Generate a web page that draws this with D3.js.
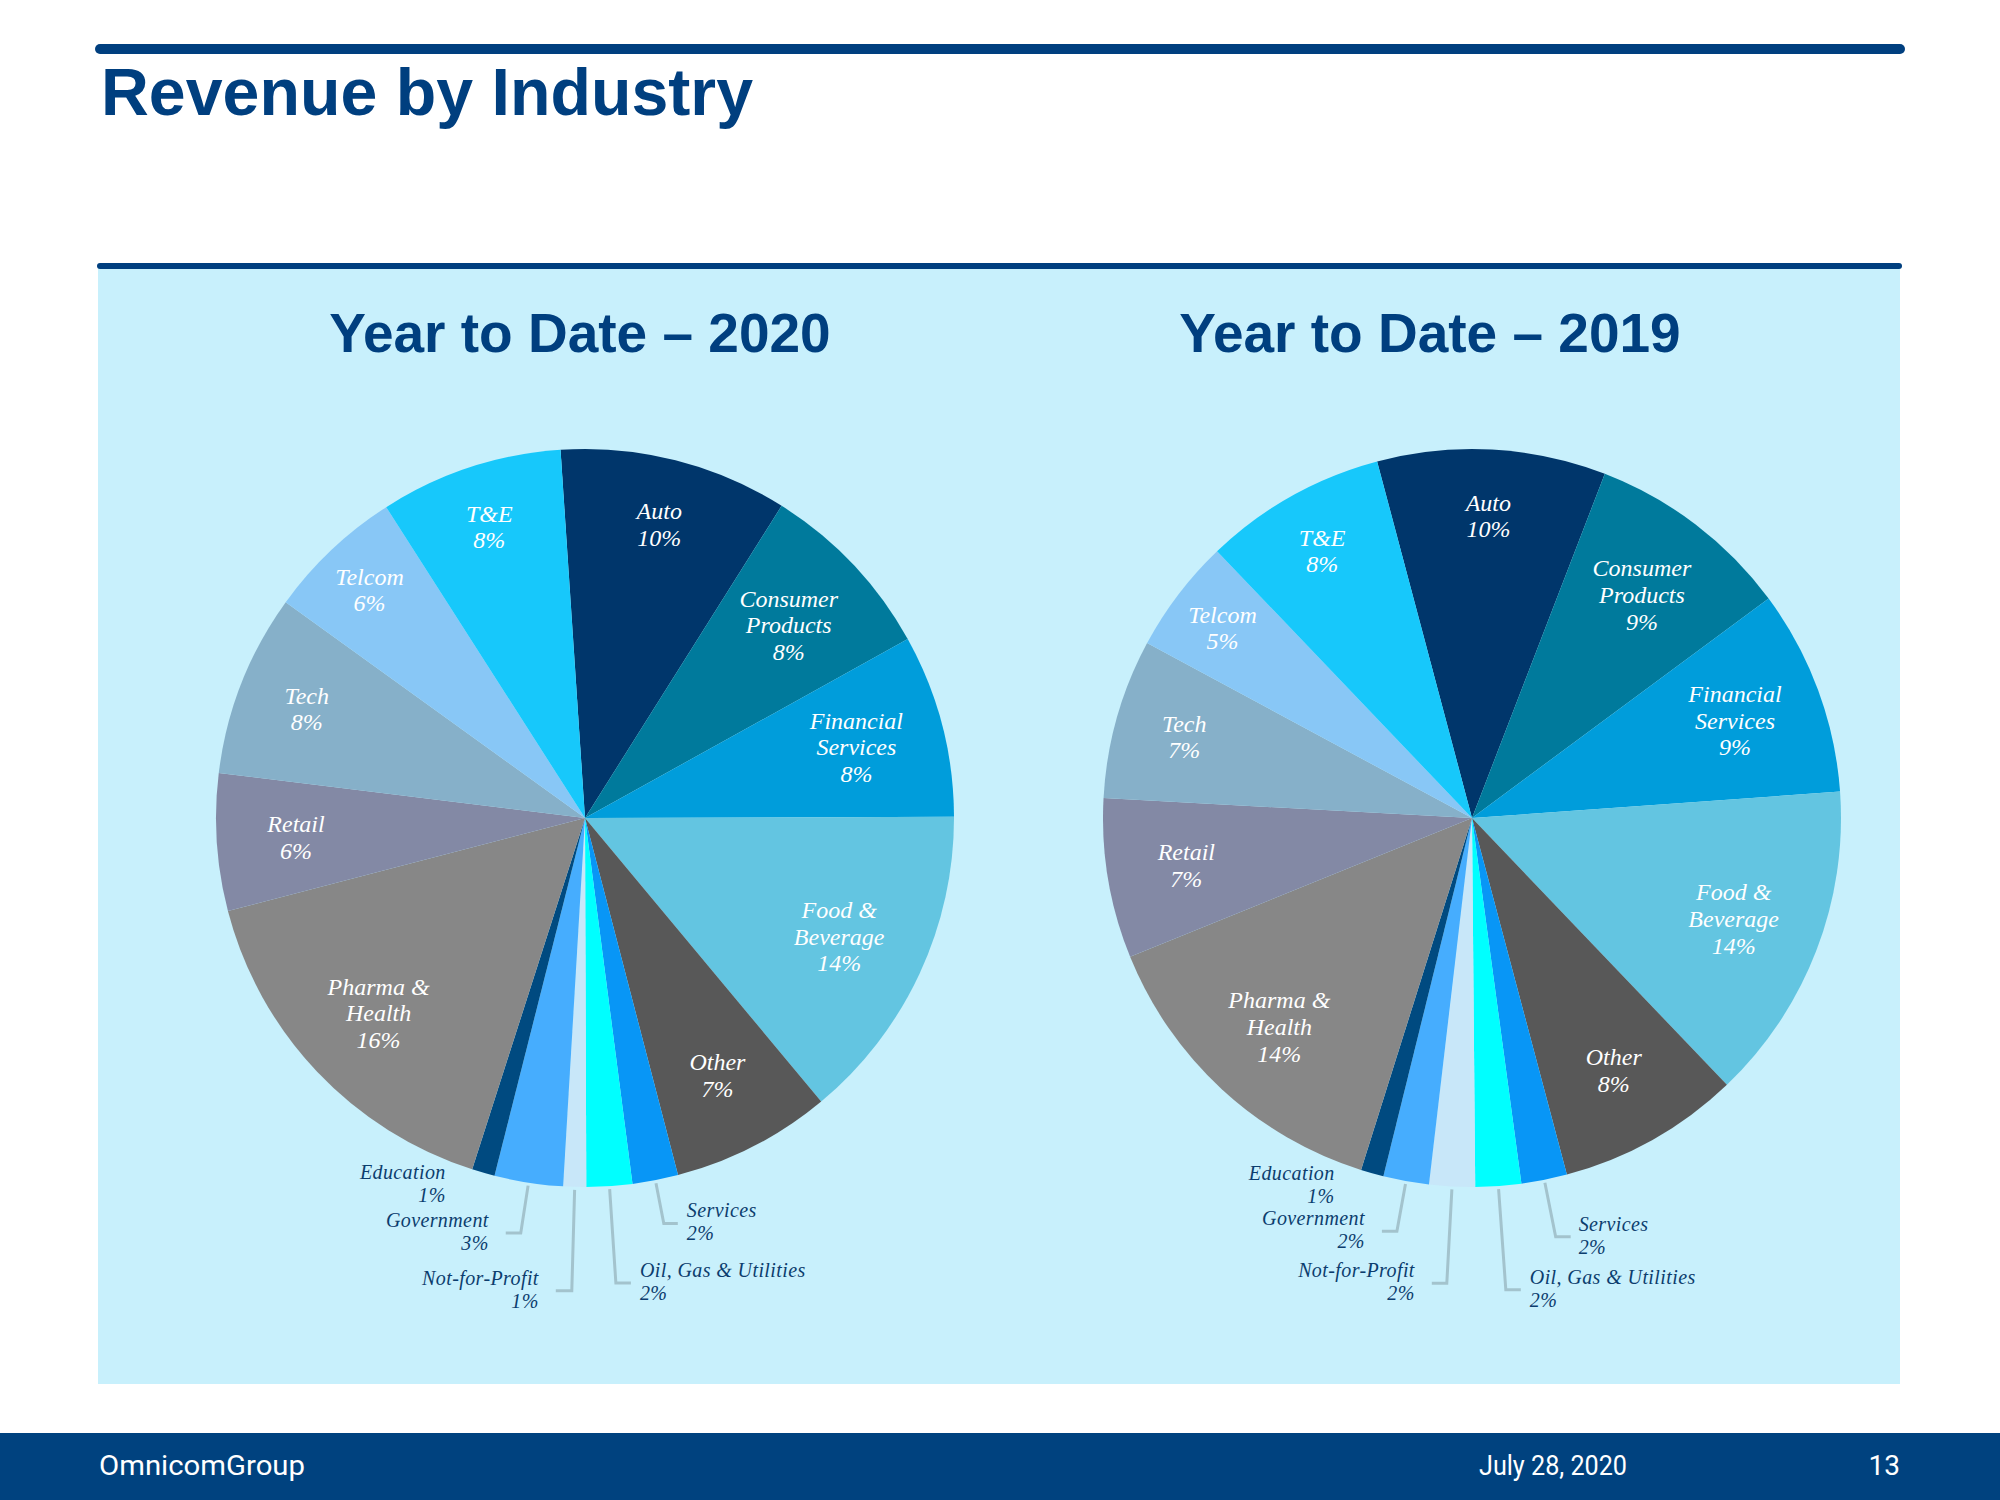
<!DOCTYPE html>
<html>
<head>
<meta charset="utf-8">
<script src="https://cdn.jsdelivr.net/npm/d3@7"></script>
<style>
  html, body { margin: 0; padding: 0; background: #fff; }
  svg { display: block; }
</style>
</head>
<body>
<svg id="canvas"></svg>
<script>
// Data
const categories = ["Auto", "Consumer Products", "Financial Services", "Food & Beverage", "Other",
                    "Services", "Oil, Gas & Utilities", "Not-for-Profit", "Government", "Education",
                    "Pharma & Health", "Retail", "Tech", "Telcom", "T&E"]
const values2020 = [10, 8, 8, 14, 7, 2, 2, 1, 3, 1, 16, 6, 8, 6, 8]
const values2019 = [10, 9, 9, 14, 8, 2, 2, 2, 2, 1, 14, 7, 7, 5, 8]
const pieTitles = ["Year to Date \u2013 2020", "Year to Date \u2013 2019"]
const slideTitle = "Revenue by Industry"
const footerTexts = ["OmnicomGroup", "July 28, 2020", "13"]

// slice colours, same order as categories
const sliceColors = ["#00366b", "#007a9c", "#009ddb", "#63c5e1", "#585858",
                     "#0896f6", "#00ffff", "#c8e7f9", "#46adfe", "#004a80",
                     "#878787", "#8389a5", "#86b0c9", "#88c7f6", "#17c8fb"]

let width = 2000
let height = 1500
let navy = "#003f7f"

let canvas = d3.select("#canvas")
canvas.attr("width", width).attr("height", height)

// slide frame
canvas.append("rect").attr("x", 0).attr("y", 0).attr("width", width).attr("height", height).attr("fill", "#fff")
canvas.append("line").attr("x1", 100).attr("x2", 1900).attr("y1", 49).attr("y2", 49)
      .attr("stroke", navy).attr("stroke-width", 10).attr("stroke-linecap", "round")
canvas.append("text").text(slideTitle)
      .attr("x", 101).attr("y", 115)
      .attr("font-family", "'Liberation Sans', Arial, sans-serif").attr("font-weight", "bold")
      .attr("font-size", 66).attr("fill", navy)
      .attr("textLength", 652).attr("lengthAdjust", "spacingAndGlyphs")

canvas.append("rect").attr("x", 98).attr("y", 266).attr("width", 1802).attr("height", 1118).attr("fill", "#c8f0fc")
canvas.append("line").attr("x1", 100).attr("x2", 1899).attr("y1", 266).attr("y2", 266)
      .attr("stroke", navy).attr("stroke-width", 6).attr("stroke-linecap", "round")

// footer band
canvas.append("rect").attr("x", 0).attr("y", 1433).attr("width", width).attr("height", 67).attr("fill", "#00427f")
let footer = canvas.append("g")
      .attr("font-family", "Roboto, 'Open Sans', sans-serif").attr("font-size", 28).attr("fill", "#fff")
footer.append("text").text(footerTexts[0]).attr("x", 99).attr("y", 1475)
      .attr("textLength", 206).attr("lengthAdjust", "spacingAndGlyphs")
footer.append("text").text(footerTexts[1]).attr("x", 1479).attr("y", 1475)
      .attr("textLength", 148).attr("lengthAdjust", "spacingAndGlyphs")
footer.append("text").text(footerTexts[2]).attr("x", 1900).attr("y", 1475).attr("text-anchor", "end")

// pie geometry
let radius = 369
let pies = [
  { title: pieTitles[0], values: values2020, cx: 585, titleX: 580, start: -3.8 },
  { title: pieTitles[1], values: values2019, cx: 1472, titleX: 1430, start: -14.9 }
]
let cy = 818

let color = d3.scaleOrdinal(categories, sliceColors)

// how far out the in-slice labels sit (fraction of radius)
let innerLabelPos = {
  "Auto": 0.82, "Consumer Products": 0.76, "Financial Services": 0.76, "Food & Beverage": 0.76,
  "Other": 0.785, "Pharma & Health": 0.77, "Retail": 0.785, "Tech": 0.81, "Telcom": 0.85, "T&E": 0.83
}

// outside labels: r1 = elbow distance beyond rim, hx = horizontal run, side = +1 right / -1 left
let outsideLayout = [
  {
    "Services":             { r1: 44, hx: 14, side: 1, gap: 9 },
    "Oil, Gas & Utilities": { r1: 97, hx: 15, side: 1, gap: 9 },
    "Not-for-Profit":       { r1: 104, hx: 16, side: -1, gap: 17 },
    "Government":           { r1: 51, hx: 15, side: -1, gap: 17 },
    "Education":            { r1: 13, hx: 0, side: -1, gap: 34, noLine: true }
  },
  {
    "Services":             { r1: 58, hx: 15, side: 1, gap: 8 },
    "Oil, Gas & Utilities": { r1: 104, hx: 15, side: 1, gap: 9 },
    "Not-for-Profit":       { r1: 97, hx: 15, side: -1, gap: 17 },
    "Government":           { r1: 51, hx: 15, side: -1, gap: 17 },
    "Education":            { r1: 13, hx: 0, side: -1, gap: 34, noLine: true }
  }
]

let toRad = deg => deg * Math.PI / 180
let polar = (a, r) => [Math.sin(a) * r, -Math.cos(a) * r]

let arc = d3.arc().innerRadius(0).outerRadius(radius)

let drawPie = (pieInfo, i) => {
  let rows = categories.map((c, k) => ({ name: c, value: pieInfo.values[k] }))
  let start = toRad(pieInfo.start)
  let pie = d3.pie().sort(null).value(d => d.value)
              .startAngle(start).endAngle(start + 2 * Math.PI)
  let slices = pie(rows)

  canvas.append("text").text(pieInfo.title)
        .attr("x", pieInfo.titleX).attr("y", 352).attr("text-anchor", "middle")
        .attr("font-family", "'Liberation Sans', Arial, sans-serif").attr("font-weight", "bold")
        .attr("font-size", 55).attr("fill", navy)

  let g = canvas.append("g").attr("transform", "translate(" + pieInfo.cx + "," + cy + ")")

  g.selectAll("path.slice")
   .data(slices)
   .enter().append("path")
   .attr("class", "slice")
   .attr("d", arc)
   .attr("fill", d => color(d.data.name))

  // labels inside the slices
  let lh = 26.7
  slices.filter(d => innerLabelPos[d.data.name] != null).forEach(d => {
    let k = innerLabelPos[d.data.name]
    let mid = (d.startAngle + d.endAngle) / 2
    let p = polar(mid, radius * k)
    let name = d.data.name
    let cut = name.lastIndexOf(" ")
    let lines = cut > 0 ? [name.slice(0, cut), name.slice(cut + 1)] : [name]
    lines.push(d.data.value + "%")
    let y0 = p[1] - (lines.length - 1) * lh / 2 + 8
    let t = g.append("text")
             .attr("font-family", "'Liberation Serif', 'Times New Roman', serif")
             .attr("font-style", "italic").attr("font-size", 24)
             .attr("fill", "#fff").attr("text-anchor", "middle")
    lines.forEach((ln, j) => {
      t.append("tspan").attr("x", p[0]).attr("y", y0 + j * lh).text(ln)
    })
  })

  // small slices get labels outside with leader lines
  let lay = outsideLayout[i]
  slices.filter(d => lay[d.data.name] != null).forEach(d => {
    let L = lay[d.data.name]
    let mid = (d.startAngle + d.endAngle) / 2
    let p0 = polar(mid, radius + 3)
    let p1 = polar(mid, radius + L.r1)
    let p2 = [p1[0] + L.side * L.hx, p1[1]]
    if (!L.noLine) {
      g.append("path")
       .attr("d", d3.line()([p0, p1, p2]))
       .attr("fill", "none").attr("stroke", "#a3c3cd").attr("stroke-width", 3)
    }
    let tx = p2[0] + L.side * L.gap
    let t = g.append("text")
             .attr("font-family", "'Liberation Serif', 'Times New Roman', serif")
             .attr("font-style", "italic").attr("font-size", 20).attr("letter-spacing", 0.4)
             .attr("fill", "#0c3d6e").attr("text-anchor", L.side > 0 ? "start" : "end")
    ;[d.data.name, d.data.value + "%"].forEach((ln, j) => {
      t.append("tspan").attr("x", tx).attr("y", p2[1] - 6 + j * 23).text(ln)
    })
  })
}

pies.forEach(drawPie)
</script>
</body>
</html>
